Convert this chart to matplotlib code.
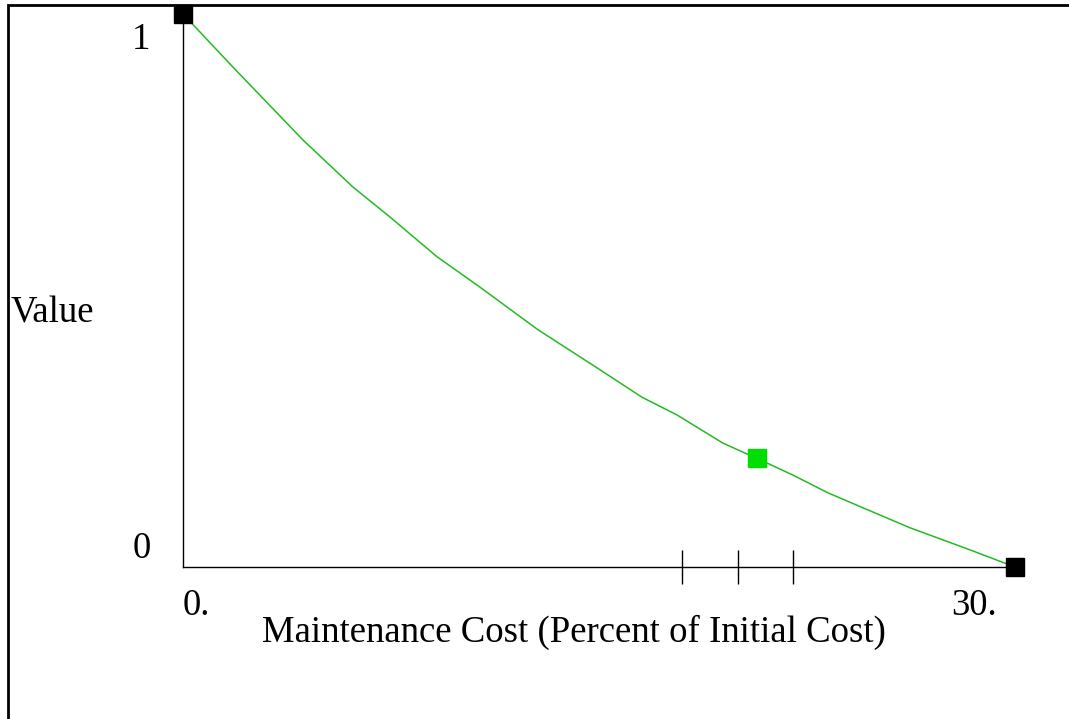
import matplotlib
matplotlib.use("Agg")
import matplotlib.pyplot as plt
from matplotlib.patches import Rectangle
import matplotlib.transforms as mtransforms

# Data
cost = [0, 1.80, 4.33, 6.13, 7.46, 9.16, 10.71, 12.80, 14.78, 16.55,
        17.81, 19.47, 21.06, 22.0, 23.26, 24.52, 26.21, 28.27, 30]
value = [1.0, 0.904, 0.772, 0.687, 0.633, 0.561, 0.506, 0.429, 0.365, 0.307,
         0.275, 0.224, 0.188, 0.166, 0.134, 0.107, 0.071, 0.033, 0.0]
end_x = [0, 30]
end_y = [1, 0]
current_x = [20.7]
current_y = [0.197]
tick_marks = [18, 20, 22]
x_labels = {0: "0.", 30: "30."}
y_labels = {1: "1", 0: "0"}
x_title = "Maintenance Cost (Percent of Initial Cost)"
y_title = "Value"

W, H = 1069, 719
fig = plt.figure(figsize=(W / 100, H / 100), dpi=100)
plt.rcParams['font.family'] = ['Liberation Serif', 'DejaVu Serif']

# outer frame
fig.patches.append(Rectangle((8 / W, -0.1), 1.2, 1 - 5 / H + 0.1,
                             transform=fig.transFigure, fill=False,
                             edgecolor='black', linewidth=2))

ax = fig.add_axes([183 / W, 1 - 567 / H, 832 / W, 553 / H])
ax.set_xlim(0, 30)
ax.set_ylim(0, 1)
for s in ['top', 'right']:
    ax.spines[s].set_visible(False)
for s in ['left', 'bottom']:
    ax.spines[s].set_linewidth(1.0)
    ax.spines[s].set_color('black')
ax.patch.set_alpha(0)

ax.plot(cost, value, color='#22bb22', linewidth=1.1, clip_on=False, zorder=2)
ax.plot(end_x, end_y, linestyle='none', marker='s', markersize=12.5,
        color='black', clip_on=False, zorder=3)
ax.plot(current_x, current_y, linestyle='none', marker='s', markersize=12.5,
        color='#00dd00', clip_on=False, zorder=3)

ax.set_xticks(tick_marks)
ax.set_xticklabels([''] * len(tick_marks))
ax.tick_params(axis='x', direction='inout', length=24, width=1.0, color='black')
ax.set_yticks([])

fs = 26.5
tx = mtransforms.blended_transform_factory(ax.transData, ax.transAxes)
for xv, lab in x_labels.items():
    if xv == 0:
        ax.text(xv, -0.07, lab, transform=tx, ha='left', va='center', fontsize=fs)
    else:
        ax.text(xv - 0.65, -0.07, lab, transform=tx, ha='right', va='center', fontsize=fs)
ty = mtransforms.blended_transform_factory(ax.transAxes, ax.transData)
for yv, lab in y_labels.items():
    off = -0.047 if yv == 1 else 0.033
    ax.text(-0.05, yv + off, lab, transform=ty, ha='center', va='center', fontsize=fs)

fig.text(574 / W, 1 - 632 / H, x_title, ha='center', va='center', fontsize=fs)
fig.text(11 / W, 1 - 313 / H, y_title, ha='left', va='center', fontsize=fs)

fig.savefig('out.png', dpi=100)
